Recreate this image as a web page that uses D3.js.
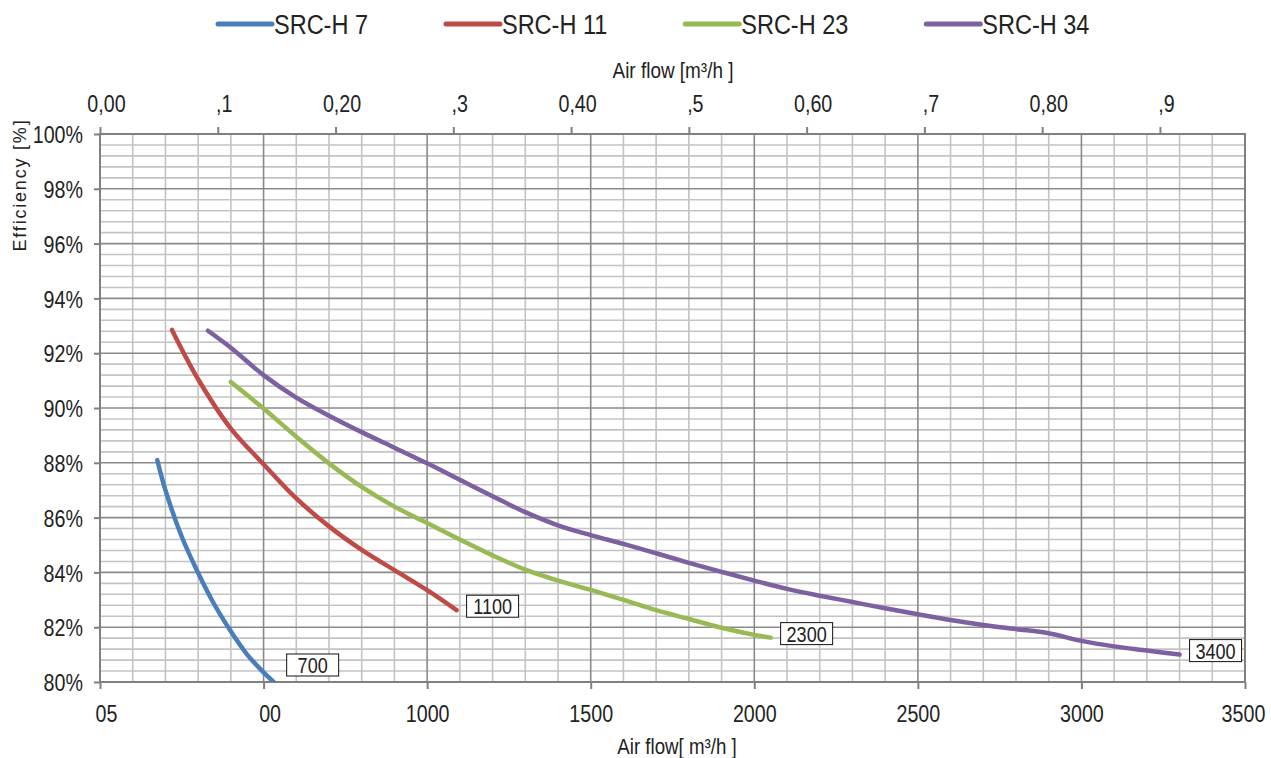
<!DOCTYPE html>
<html>
<head>
<meta charset="utf-8">
<script src="https://cdn.jsdelivr.net/npm/d3@7"></script>
<style>
  html, body { margin: 0; padding: 0; background: #fff; }
  svg { display: block; }
  text { font-family: 'Liberation Sans', Arial, sans-serif; fill: #222; }
</style>
</head>
<body>
<svg id="chart" width="1271" height="758"></svg>
<script>
// ---------- data ----------
const seriesNames = ["SRC-H 7", "SRC-H 11", "SRC-H 23", "SRC-H 34"];
const seriesColors = ["#4a7ebb", "#be4b48", "#98b954", "#7d60a0"];

const flow7  = [175, 200, 250, 300, 350, 400, 450, 500, 540];
const eff7   = [88.1, 87.0, 85.3, 83.98, 82.82, 81.85, 81.0, 80.35, 79.9];

const flow11 = [220, 300, 400, 500, 600, 700, 800, 900, 1000, 1090];
const eff11  = [92.85, 91.05, 89.25, 87.95, 86.7, 85.68, 84.82, 84.08, 83.35, 82.62];

const flow23 = [400, 500, 600, 700, 800, 900, 1000, 1100, 1200, 1300, 1400, 1500, 1600, 1700, 1800, 1900, 2000, 2050];
const eff23  = [90.95, 89.98, 88.95, 87.98, 87.12, 86.4, 85.8, 85.2, 84.62, 84.1, 83.7, 83.36, 83.0, 82.62, 82.3, 81.98, 81.72, 81.62];

const flow34 = [330, 400, 500, 600, 700, 800, 900, 1000, 1100, 1200, 1300, 1400, 1500, 1600, 1700, 1800, 1900, 2000, 2100, 2200, 2300, 2400, 2500, 2600, 2700, 2800, 2900, 3000, 3100, 3200, 3300];
const eff34  = [92.82, 92.2, 91.2, 90.38, 89.72, 89.12, 88.55, 87.98, 87.38, 86.78, 86.2, 85.72, 85.36, 85.04, 84.7, 84.35, 84.02, 83.7, 83.4, 83.15, 82.92, 82.69, 82.47, 82.26, 82.08, 81.93, 81.78, 81.5, 81.3, 81.15, 81.0];

const endLabels = ["700", "1100", "2300", "3400"];

const bottomTicks  = [0, 500, 1000, 1500, 2000, 2500, 3000, 3500];
const bottomLabels = ["05", "00", "1000", "1500", "2000", "2500", "3000", "3500"];
const topTicks  = [0, 0.1, 0.2, 0.3, 0.4, 0.5, 0.6, 0.7, 0.8, 0.9];
const topLabels = ["0,00", ",1", "0,20", ",3", "0,40", ",5", "0,60", ",7", "0,80", ",9"];
const yTicks  = [80, 82, 84, 86, 88, 90, 92, 94, 96, 98, 100];
const yLabels = ["80%", "82%", "84%", "86%", "88%", "90%", "92%", "94%", "96%", "98%", "100%"];

const xTitleTop = "Air flow  [m³/h ]";
const xTitleBottom = "Air flow[ m³/h ]";
const yTitle = "Efficiency  [%]";

// ---------- helpers ----------
function narrow(sel, f) {
  sel.each(function () {
    const w = this.getComputedTextLength();
    d3.select(this).attr("textLength", w * f).attr("lengthAdjust", "spacingAndGlyphs");
  });
  return sel;
}

// ---------- layout ----------
const svg = d3.select("#chart");
const L = 100, R = 1245, T = 134, B = 682;
const SQ = 0.82; // horizontal squeeze for condensed look

const x = d3.scaleLinear().domain([0, 3500]).range([L, R]);
const xTop = d3.scaleLinear().domain([0, 3500 / 3600]).range([L, R]);
const y = d3.scaleLinear().domain([80, 100]).range([B, T]);

const series = seriesNames.map((name, i) => {
  const f = [flow7, flow11, flow23, flow34][i];
  const e = [eff7, eff11, eff23, eff34][i];
  return { name, color: seriesColors[i], label: endLabels[i], pts: f.map((v, k) => ({ x: v, y: e[k] })) };
});

// grid
const grid = svg.append("g");
const minorX = d3.range(0, 3501, 100).filter(v => v % 500 !== 0);
const majorX = d3.range(0, 3501, 500);
const minorY = d3.range(0, 51).map(k => 80 + k * 0.4).filter(v => Math.abs(v / 2 - Math.round(v / 2)) > 1e-6);
const majorY = d3.range(80, 100.01, 2);

grid.selectAll(".mnx").data(minorX).join("line")
  .attr("x1", d => x(d)).attr("x2", d => x(d)).attr("y1", T).attr("y2", B)
  .attr("stroke", "#c3c3c3").attr("stroke-width", 1.6);
grid.selectAll(".mny").data(minorY).join("line")
  .attr("x1", L).attr("x2", R).attr("y1", d => y(d)).attr("y2", d => y(d))
  .attr("stroke", "#c3c3c3").attr("stroke-width", 1.6);
grid.selectAll(".mjx").data(majorX).join("line")
  .attr("x1", d => x(d)).attr("x2", d => x(d)).attr("y1", T).attr("y2", B)
  .attr("stroke", "#8a8a8a").attr("stroke-width", 1.6);
grid.selectAll(".mjy").data(majorY).join("line")
  .attr("x1", L).attr("x2", R).attr("y1", d => y(d)).attr("y2", d => y(d))
  .attr("stroke", "#8a8a8a").attr("stroke-width", 1.6);

// frame
svg.append("rect").attr("x", L).attr("y", T).attr("width", R - L).attr("height", B - T)
  .attr("fill", "none").attr("stroke", "#808080").attr("stroke-width", 2);

// axes
const axColor = "#808080";
const gB = svg.append("g").attr("transform", `translate(0,${B})`)
  .call(d3.axisBottom(x).tickValues(bottomTicks).tickSize(7).tickPadding(16)
    .tickFormat((d, i) => bottomLabels[i]));
gB.selectAll("text").attr("dx", (d, i) => bottomLabels[i].length <= 2 ? 6 / SQ : (i === bottomLabels.length - 1 ? -2 / SQ : 0));

const gT = svg.append("g").attr("transform", `translate(0,${T})`)
  .call(d3.axisTop(xTop).tickValues(topTicks).tickSize(7).tickPadding(15)
    .tickFormat((d, i) => topLabels[i]));
gT.selectAll("text").attr("dx", 6 / SQ);

const gL = svg.append("g").attr("transform", `translate(${L},0)`)
  .call(d3.axisLeft(y).tickValues(yTicks).tickSize(6).tickPadding(11)
    .tickFormat((d, i) => yLabels[i]));
gL.selectAll("text").attr("x", -17 / SQ).attr("dy", "0.36em");

[gB, gT, gL].forEach(g => {
  g.select(".domain").remove();
  g.selectAll(".tick line").attr("stroke", axColor).attr("stroke-width", 2);
  g.selectAll("text").style("font-size", "24px").attr("fill", "#222")
    .style("font-family", "'Liberation Sans', Arial, sans-serif")
    .attr("transform", `scale(${SQ},1)`);
});

// axis titles
narrow(svg.append("text").attr("x", 673).attr("y", 78).attr("text-anchor", "middle")
  .style("font-size", "22px").text(xTitleTop), 0.86);
narrow(svg.append("text").attr("x", 677).attr("y", 754).attr("text-anchor", "middle")
  .style("font-size", "22px").text(xTitleBottom), 0.85);
svg.append("text").attr("transform", "translate(26,185) rotate(-90)").attr("text-anchor", "middle")
  .style("font-size", "18px").style("letter-spacing", "1.8px").text(yTitle);

// clip
svg.append("clipPath").attr("id", "plotclip").append("rect")
  .attr("x", L).attr("y", T).attr("width", R - L).attr("height", B - T);

const line = d3.line().x(d => x(d.x)).y(d => y(d.y)).curve(d3.curveCatmullRom.alpha(0.5));
svg.append("g").attr("clip-path", "url(#plotclip)")
  .selectAll("path").data(series).join("path")
  .attr("d", d => line(d.pts))
  .attr("fill", "none").attr("stroke", d => d.color).attr("stroke-width", 4.5)
  .attr("stroke-linecap", "round").attr("stroke-linejoin", "round");

// end labels
const lbl = svg.append("g").selectAll("g").data(series).join("g")
  .attr("transform", d => {
    const p = d.pts[d.pts.length - 1];
    const px = x(p.x) + 10;
    const py = Math.min(y(p.y) - 4, B - 17);
    return `translate(${px},${py})`;
  });
lbl.append("rect").attr("x", 0).attr("y", -11).attr("width", 52).attr("height", 22)
  .attr("fill", "#fff").attr("stroke", "#111").attr("stroke-width", 1);
narrow(lbl.append("text").attr("x", 26).attr("y", 0).attr("dy", "0.36em").attr("text-anchor", "middle")
  .style("font-size", "22px").text(d => d.label), 0.82);

// legend
const leg = svg.append("g");
let lx = 218;
series.forEach(s => {
  leg.append("line").attr("x1", lx).attr("x2", lx + 54).attr("y1", 24).attr("y2", 24)
    .attr("stroke", s.color).attr("stroke-width", 5).attr("stroke-linecap", "round");
  const t = leg.append("text").attr("x", lx + 56).attr("y", 24).attr("dy", "0.36em")
    .style("font-size", "27px").text(s.name);
  const w = t.node().getComputedTextLength() * 0.87;
  t.attr("textLength", w).attr("lengthAdjust", "spacingAndGlyphs");
  const bw = t.node().getBBox().width;
  lx = lx + 56 + bw + 78;
});
</script>
</body>
</html>
